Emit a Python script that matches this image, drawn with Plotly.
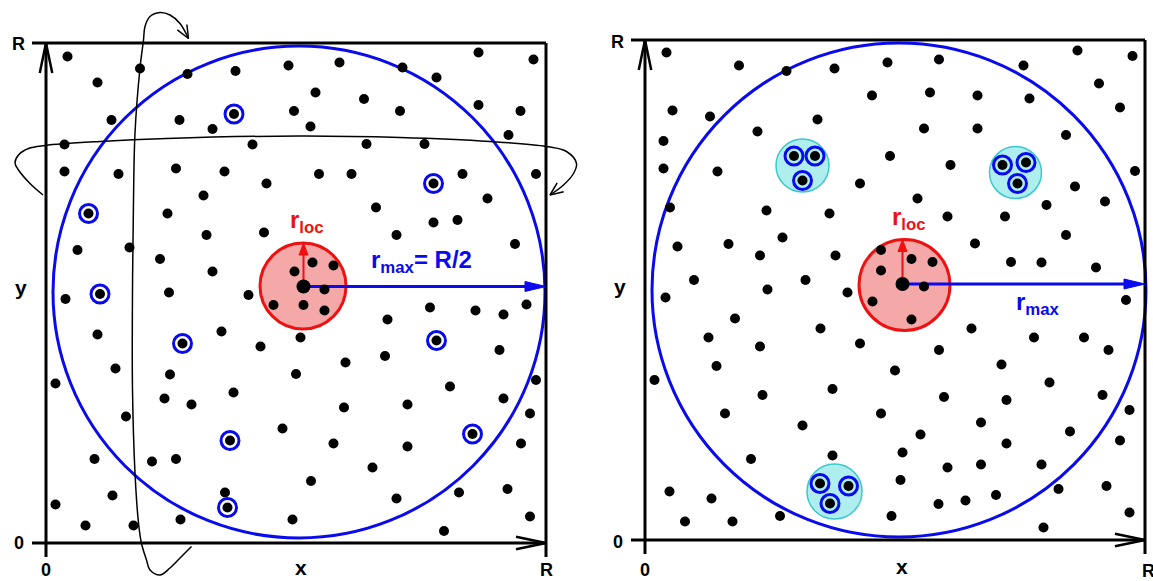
import numpy as np
import plotly.graph_objects as go

# ---------------- data (coordinates in units of R/100) ----------------
R = 100

# left panel: ordinary particles
left_x = [4.3, 10.3, 18.8, 28.3, 37.9, 48.5, 58.7, 71.3, 78.1, 86.5, 97.5, 53.9, 63.6, 13.1, 26.7, 33.3, 49.6, 70.8,
          86.5, 94.9, 52.9, 3.7, 41.3, 64.1, 75.7, 92.5, 3.7, 14.5, 26.0, 35.7, 44.1, 54.6, 61.1, 83.3, 98.0, 24.3,
          31.5, 66.0, 88.3, 32.1, 43.6, 6.3, 16.7, 22.8, 33.3, 70.1, 77.5, 82.3, 93.8, 40.5, 24.6, 3.9, 49.7, 53.3,
          57.5, 55.7, 45.5, 51.5, 55.7, 76.8, 85.9, 91.5, 96.1, 68.3, 35.1, 50.9, 42.9, 59.9, 67.8, 50.0, 37.5, 10.3,
          13.9, 24.8, 1.9, 23.7, 29.1, 16.0, 47.3, 9.7, 21.2, 26.0, 13.3, 35.8, 1.9, 7.9, 17.5, 26.9, 49.3, 90.7,
          80.8, 98.0, 59.6, 72.3, 91.5, 96.8, 57.5, 72.3, 95.0, 65.3, 53.0, 82.6, 92.3, 70.1, 96.8, 79.6]
left_y = [97.3, 92.1, 94.9, 93.8, 94.4, 95.5, 96.1, 95.1, 93.1, 98.1, 96.7, 90.1, 88.8, 84.6, 84.6, 82.8, 86.4, 86.4,
          87.6, 86.4, 83.3, 79.7, 79.7, 79.8, 79.8, 81.6, 74.3, 73.8, 74.9, 74.3, 71.9, 73.8, 73.8, 73.8, 73.8, 65.9,
          69.5, 67.1, 68.9, 61.6, 62.1, 58.6, 59.1, 56.8, 54.3, 61.6, 64.1, 64.6, 59.8, 49.6, 50.1, 48.8, 54.3, 56.1,
          55.5, 50.7, 47.6, 47.6, 46.5, 47.1, 46.5, 45.7, 47.7, 44.7, 42.3, 41.1, 39.3, 36.1, 37.4, 33.8, 30.1, 41.7,
          34.9, 33.7, 31.9, 28.9, 27.7, 25.3, 22.9, 16.8, 16.3, 16.8, 9.5, 10.1, 7.7, 3.5, 3.5, 4.7, 4.7, 38.6,
          31.3, 32.6, 27.1, 27.7, 28.9, 25.9, 19.9, 19.3, 19.9, 15.1, 12.4, 10.1, 10.8, 8.9, 5.3, 2.4]
# left panel: tagged particles (ringed)
left_ring_x = [37.6, 77.5, 8.5, 10.8, 27.3, 78.1, 36.8, 85.3, 36.3]
left_ring_y = [85.8, 71.9, 65.9, 49.8, 39.9, 40.5, 20.5, 21.8, 7.1]
# left panel: reference particle, local sphere, r_max sphere
left_ref = (51.5, 51.3)
left_rloc_circle = (51.4, 51.4, 8.6)
left_rmax_circle = (50.6, 50.2, 49.2)
# periodic-boundary loops (left panel)
vloop_x = [29.1, 26.8, 24.8, 22.8, 20.8, 20.1, 19.1, 18.5, 17.8, 17.3, 17.3, 17.5, 17.8, 18.8, 19.5, 19.8, 20.8, 22.8,
           24.8, 26.8, 28.5]
vloop_y = [-0.7, -3.0, -5.0, -6.4, -5.4, -3.4, -0.1, 4.0, 14.0, 30.6, 50.6, 68.6, 82.0, 95.0, 100.6, 103.3, 105.3,
           106.1, 105.6, 103.9, 100.9]
hloop_x = [-0.6, -3.2, -5.5, -6.2, -5.5, -3.5, -0.2, 10.8, 24.1, 50.8, 70.8, 88.8, 100.1, 104.1, 106.1, 105.5, 103.5,
           100.8]
hloop_y = [69.6, 71.9, 74.6, 76.0, 77.6, 78.9, 79.5, 80.3, 80.9, 81.4, 81.1, 80.3, 79.3, 78.3, 75.9, 73.9, 71.6, 69.6]

# right panel: ordinary particles
right_x = [4.3, 18.8, 28.3, 37.9, 45.4, 5.5, 13.0, 34.5, 22.5, 3.7, 3.7, 14.5, 43.0, 5.0, 24.3, 36.9, 6.5, 16.7, 27.5,
           23.0, 38.1, 9.8, 24.5, 40.5, 4.1, 48.5, 58.8, 75.7, 86.5, 97.5, 57.0, 66.5, 76.9, 90.8, 95.0, 55.8, 66.5,
           84.2, 49.0, 61.1, 98.0, 54.5, 86.0, 92.0, 60.5, 72.0, 80.3, 84.2, 66.0, 73.2, 79.3, 90.2, 96.2, 47.2, 53.3,
           57.5, 47.2, 55.8, 45.5, 53.3, 32.1, 35.1, 65.3, 43.0, 58.8, 71.3, 50.0, 37.5, 59.8, 72.3, 18.0, 12.7, 23.0,
           14.3, 1.9, 23.5, 16.0, 31.5, 47.2, 21.2, 37.5, 4.9, 13.3, 8.0, 17.5, 27.0, 77.8, 87.8, 92.7, 80.9, 91.5,
           96.9, 67.2, 55.1, 85.0, 95.0, 51.5, 72.3, 60.5, 67.2, 79.3, 51.1, 82.7, 92.3, 58.7, 64.1, 70.2, 49.3, 96.9,
           79.7]
right_y = [97.5, 94.9, 93.8, 94.3, 88.9, 85.9, 84.7, 84.1, 81.7, 79.8, 74.3, 73.7, 71.3, 66.5, 65.9, 65.3, 58.7, 59.2,
           60.5, 56.9, 56.9, 52.0, 50.1, 49.5, 48.5, 95.5, 96.1, 94.9, 97.9, 96.8, 89.5, 88.9, 88.3, 91.3, 86.5, 82.3,
           82.3, 81.0, 76.8, 75.0, 73.8, 68.3, 70.7, 67.7, 64.7, 64.7, 67.0, 61.0, 59.3, 55.6, 55.5, 54.5, 48.0, 58.0,
           56.2, 55.6, 53.9, 50.7, 47.7, 44.1, 52.0, 42.3, 42.3, 39.3, 38.0, 35.1, 33.9, 30.2, 28.6, 28.0, 44.3, 40.5,
           38.7, 34.8, 32.0, 29.0, 25.3, 22.9, 25.3, 16.2, 16.9, 9.7, 8.3, 3.7, 3.7, 4.8, 40.5, 40.5, 38.0, 31.5, 29.0,
           26.0, 23.5, 21.1, 21.7, 19.9, 17.5, 19.3, 14.5, 15.1, 15.1, 12.0, 10.2, 10.8, 7.2, 7.9, 9.0, 4.8, 5.5, 2.5]
# right panel: clusters (cyan discs) and their member particles
cluster_cx = [31.5, 74.1, 37.9]
cluster_cy = [74.9, 73.5, 9.7]
cluster_r = [5.3, 5.2, 5.5]
right_ring_x = [29.8, 34.0, 31.5, 71.5, 76.2, 74.5, 35.0, 40.7, 37.0]
right_ring_y = [76.8, 76.8, 71.9, 75.0, 75.5, 71.3, 11.3, 10.8, 7.3]
right_ref = (51.5, 51.2)
right_rloc_circle = (51.9, 51.0, 9.1)
right_rmax_circle = (50.8, 50.0, 49.4)

# axis labels: (text, x, y) per panel
left_labels = [("R", -5.5, 99.8), ("0", -5.5, 0.0), ("y", -5.0, 51.0), ("0", 0.0, -5.4), ("x", 51.0, -4.8),
               ("R", 100.0, -5.4)]
right_labels = [("R", -5.6, 99.6), ("0", -5.4, -0.4), ("y", -5.0, 50.8), ("0", 0.0, -6.0), ("x", 51.4, -5.3),
                ("R", 100.6, -6.2)]

# ---------------- styling ----------------
BLUE = "#0a0aee"
RED = "#ee1111"
PINK = "#f4a8a8"
CYAN_FILL = "#aeeeee"
CYAN_LINE = "#3cc8cc"
FONT = "Liberation Sans, Arial, Helvetica, sans-serif"
W, H = 1153, 581
EXT = 2.8           # how far box lines overshoot the corners
AX_LEN, AX_HALF = 6.0, 1.25

fig = go.Figure()
shapes, annotations = [], []


def head(tip, frm, length, half, closed):
    tx, ty = tip
    fx, fy = frm
    d = np.hypot(tx - fx, ty - fy)
    ux, uy = (tx - fx) / d, (ty - fy) / d
    bx, by = tx - ux * length, ty - uy * length
    px, py = -uy * half, ux * half
    xs = [bx + px, tx, bx - px]
    ys = [by + py, ty, by - py]
    if closed:
        xs.append(bx + px)
        ys.append(by + py)
    return xs, ys, (bx, by)


def add_panel(xa, ya, dots_x, dots_y, ring_x, ring_y, ref, rloc, rmax, rmax_text, rmax_pos, labels):
    xr, yr = xa, ya
    cx, cy, r = rmax
    shapes.append(dict(type="circle", xref=xr, yref=yr, x0=cx - r, x1=cx + r, y0=cy - r, y1=cy + r,
                       line=dict(color=BLUE, width=3), layer="below"))
    cx, cy, r = rloc
    shapes.append(dict(type="circle", xref=xr, yref=yr, x0=cx - r, x1=cx + r, y0=cy - r, y1=cy + r,
                       fillcolor=PINK, line=dict(color=RED, width=3), layer="below"))
    for x0, y0, x1, y1 in [(-EXT, R, R, R), (0, -EXT, 0, R), (-EXT, 0, R, 0), (R, -EXT, R, R)]:
        shapes.append(dict(type="line", xref=xr, yref=yr, x0=x0, y0=y0, x1=x1, y1=y1,
                           line=dict(color="black", width=3), layer="below"))
    for tip, frm in [((0, R), (0, 0)), ((R, 0), (0, 0))]:
        hx, hy, _ = head(tip, frm, AX_LEN, AX_HALF, False)
        fig.add_trace(go.Scatter(x=hx, y=hy, mode="lines", line=dict(color="black", width=2.5),
                                 xaxis=xr, yaxis=yr, hoverinfo="skip"))
    rx, ry = ref
    tip = (rx, rloc[1] + rloc[2])
    hx, hy, base = head(tip, ref, 2.4, 0.9, True)
    fig.add_trace(go.Scatter(x=[rx, base[0]], y=[ry, base[1]], mode="lines", line=dict(color=RED, width=2),
                             xaxis=xr, yaxis=yr, hoverinfo="skip"))
    fig.add_trace(go.Scatter(x=hx, y=hy, mode="lines", fill="toself", fillcolor=RED, line=dict(color=RED, width=1),
                             xaxis=xr, yaxis=yr, hoverinfo="skip"))
    tip = (R, ry)
    hx, hy, base = head(tip, ref, 4.2, 1.0, True)
    fig.add_trace(go.Scatter(x=[rx, base[0]], y=[ry, base[1]], mode="lines", line=dict(color=BLUE, width=3),
                             xaxis=xr, yaxis=yr, hoverinfo="skip"))
    fig.add_trace(go.Scatter(x=hx, y=hy, mode="lines", fill="toself", fillcolor=BLUE, line=dict(color=BLUE, width=1),
                             xaxis=xr, yaxis=yr, hoverinfo="skip"))
    fig.add_trace(go.Scatter(x=dots_x + ring_x, y=dots_y + ring_y, mode="markers",
                             marker=dict(color="black", size=10, line=dict(width=0)),
                             xaxis=xr, yaxis=yr, hoverinfo="skip"))
    fig.add_trace(go.Scatter(x=ring_x, y=ring_y, mode="markers",
                             marker=dict(symbol="circle-open", color=BLUE, size=18, line=dict(width=3)),
                             xaxis=xr, yaxis=yr, hoverinfo="skip"))
    fig.add_trace(go.Scatter(x=[rx], y=[ry], mode="markers", marker=dict(color="black", size=14),
                             xaxis=xr, yaxis=yr, hoverinfo="skip"))
    annotations.append(dict(x=rloc[0] + 0.8, y=rloc[1] + rloc[2] + 4.2, xref=xr, yref=yr, showarrow=False,
                            text="r<sub>loc</sub>", font=dict(family=FONT, size=24, color=RED, weight="bold")))
    annotations.append(dict(x=rmax_pos[0], y=rmax_pos[1], xref=xr, yref=yr, showarrow=False,
                            text=rmax_text, font=dict(family=FONT, size=24, color=BLUE, weight="bold")))
    for t, x, y in labels:
        size = 21 if t in ("x", "y") else 18
        annotations.append(dict(x=x, y=y, xref=xr, yref=yr, showarrow=False, text=t,
                                font=dict(family=FONT, size=size, color="black", weight="bold")))


# ---- left panel ----
add_panel("x", "y", left_x, left_y, left_ring_x, left_ring_y, left_ref, left_rloc_circle, left_rmax_circle,
          "r<sub>max</sub>= R/2", (75.0, 56.2), left_labels)
for lx, ly in [(vloop_x, vloop_y), (hloop_x, hloop_y)]:
    fig.add_trace(go.Scatter(x=lx, y=ly, mode="lines", line=dict(color="black", width=1.5, shape="spline",
                                                                 smoothing=1.0),
                             xaxis="x", yaxis="y", hoverinfo="skip"))
    hx, hy, _ = head((lx[-1], ly[-1]), (lx[-2], ly[-2]), 2.6, 1.1, False)
    fig.add_trace(go.Scatter(x=hx, y=hy, mode="lines", line=dict(color="black", width=1.5),
                             xaxis="x", yaxis="y", hoverinfo="skip"))

# ---- right panel ----
for cx, cy, r in zip(cluster_cx, cluster_cy, cluster_r):
    shapes.append(dict(type="circle", xref="x2", yref="y2", x0=cx - r, x1=cx + r, y0=cy - r, y1=cy + r,
                       fillcolor=CYAN_FILL, line=dict(color=CYAN_LINE, width=1.5), layer="below"))
add_panel("x2", "y2", right_x, right_y, right_ring_x, right_ring_y, right_ref, right_rloc_circle,
          right_rmax_circle, "r<sub>max</sub>", (78.6, 47.4), right_labels)

# ---- layout: 5 px per data unit on both axes of both panels ----
PX = 5.0
lx0 = 1.0
ly_bot = 580.0
rx0 = 600.0
layout_axes = dict(
    xaxis=dict(range=[-9, 111], domain=[lx0 / W, (lx0 + 120 * PX) / W], visible=False, fixedrange=True),
    yaxis=dict(range=[-7.4, 108.2], domain=[(H - ly_bot) / H, (H - ly_bot + 115.6 * PX) / H], visible=False,
               fixedrange=True),
    xaxis2=dict(range=[-9, 101.6], domain=[rx0 / W, 1.0], visible=False, fixedrange=True),
    yaxis2=dict(range=[-8, 108], domain=[(H - ly_bot) / H, 1.0], visible=False, fixedrange=True),
)
fig.update_layout(width=W, height=H, margin=dict(l=0, r=0, t=0, b=0), paper_bgcolor="white",
                  plot_bgcolor="rgba(0,0,0,0)", showlegend=False, shapes=shapes, annotations=annotations,
                  **layout_axes)
fig.write_html("out.html", config={"displayModeBar": False, "staticPlot": True},
               post_script="document.body.style.margin='0px';document.body.style.overflow='hidden';")
